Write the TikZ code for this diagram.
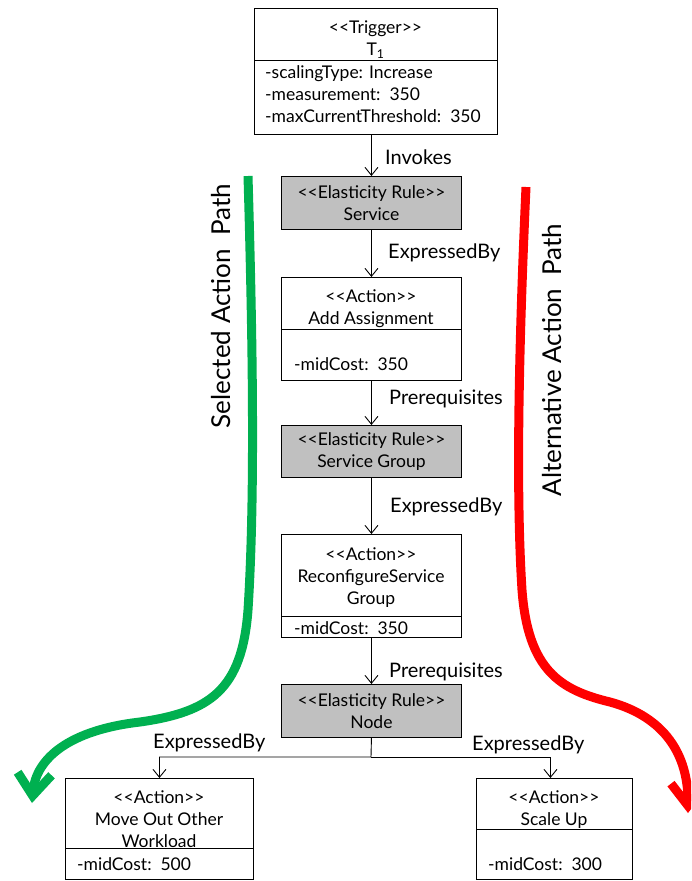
\documentclass[tikz,border=0pt]{standalone}
\usepackage{fontspec}
\setmainfont{Lato}[Ligatures=TeXOff]
\usetikzlibrary{arrows.meta,calc}

\definecolor{rulegray}{RGB}{192,192,192}
\definecolor{selgreen}{RGB}{0,176,80}
\definecolor{altred}{RGB}{255,0,0}

\tikzset{
  box/.style={draw, line width=0.9pt, inner sep=0pt, anchor=north west},
  rulebox/.style={box, fill=rulegray},
  boxtext/.style={font=\fontsize{17.5}{22}\selectfont, inner sep=0pt, align=center},
  attrtext/.style={font=\fontsize{17.5}{22}\selectfont, inner sep=0pt, align=left, anchor=north west},
  conn/.style={line width=0.9pt, -{Straight Barb[length=8pt,width=13pt]}},
  connlabel/.style={font=\fontsize{20}{24}\selectfont, inner sep=0pt, anchor=west},
  pathlabel/.style={font=\fontsize{26}{30}\selectfont, inner sep=0pt, rotate=90},
  pathline/.style={line width=9pt, -{Straight Barb[length=22pt,width=34pt]}}
}

\begin{document}
\begin{tikzpicture}[x=1pt, y=-1pt]
    \useasboundingbox (0,0) rectangle (691,881);
    \clip (0,0) rectangle (691,881);

    % Boxes, top to bottom (top left corner, size)
    \node[box, minimum width=243pt, minimum height=126pt] (trig) at (254,8) {};
    \node[rulebox, minimum width=180pt, minimum height=53pt] (rulesvc) at (281,176) {};
    \node[box, minimum width=180pt, minimum height=103pt] (addassign) at (281,277) {};
    \node[rulebox, minimum width=180pt, minimum height=52pt] (rulegroup) at (281,425) {};
    \node[box, minimum width=180pt, minimum height=103pt] (reconf) at (281,534) {};
    \node[rulebox, minimum width=180pt, minimum height=53pt] (rulenode) at (281,684) {};
    \node[box, minimum width=188pt, minimum height=101pt] (moveout) at (65,778) {};
    \node[box, minimum width=156pt, minimum height=101pt] (scaleup) at (476,778) {};

    % Compartment lines
    \draw[line width=0.9pt] (trig.west |- 0,60) -- (trig.east |- 0,60);
    \draw[line width=0.9pt] (addassign.west |- 0,329) -- (addassign.east |- 0,329);
    \draw[line width=0.9pt] (reconf.west |- 0,616) -- (reconf.east |- 0,616);
    \draw[line width=0.9pt] (moveout.west |- 0,848) -- (moveout.east |- 0,848);
    \draw[line width=0.9pt] (scaleup.west |- 0,829) -- (scaleup.east |- 0,829);

    % Box texts
    \node[boxtext] (trig-head) at (375.5,40) {<<Trigger>>\\T\textsubscript{1}};
    \node[attrtext] (trig-attr) at (265,65) {-scalingType: Increase\\-measurement:\ \ 350\\-maxCurrentThreshold:\ \ 350};
    \node[boxtext] (rulesvc-head) at (rulesvc.center) {<<Elasticity Rule>>\\Service};
    \node[boxtext] (addassign-head) at (371,309) {<<Action>>\\Add Assignment};
    \node[attrtext, anchor=west] (addassign-attr) at (294,364) {-midCost:\ \ 350};
    \node[boxtext] (rulegroup-head) at (rulegroup.center) {<<Elasticity Rule>>\\Service Group};
    \node[boxtext] (reconf-head) at (371,578) {<<Action>>\\ReconfigureService\\Group};
    \node[attrtext, anchor=west] (reconf-attr) at (294,628) {-midCost:\ \ 350};
    \node[boxtext] (rulenode-head) at (rulenode.center) {<<Elasticity Rule>>\\Node};
    \node[boxtext] (moveout-head) at (159,819) {<<Action>>\\Move Out Other\\Workload};
    \node[attrtext, anchor=west] (moveout-attr) at (77,864) {-midCost:\ \ 500};
    \node[boxtext] (scaleup-head) at (554,810) {<<Action>>\\Scale Up};
    \node[attrtext, anchor=west] (scaleup-attr) at (488,864) {-midCost:\ \ 300};

    % Connectors
    \draw[conn] (rulesvc.north |- trig.south) -- (rulesvc.north);
    \draw[conn] (rulesvc.south) -- (addassign.north);
    \draw[conn] (addassign.south) -- (rulegroup.north);
    \draw[conn] (rulegroup.south) -- (reconf.north);
    \draw[conn] (reconf.south) -- (rulenode.north);
    \coordinate (split) at (371,757);
    \draw[conn] (rulenode.south) -- (split) -| (moveout.north);
    \draw[conn] (split) -| ([xshift=-4pt]scaleup.north);

    % Connector labels
    \node[connlabel] (lbl-invokes) at (385,157) {Invokes};
    \node[connlabel] (lbl-expr1) at (388,253) {ExpressedBy};
    \node[connlabel] (lbl-prereq1) at (389,399) {Prerequisites};
    \node[connlabel] (lbl-expr2) at (390,507) {ExpressedBy};
    \node[connlabel] (lbl-prereq2) at (389,672) {Prerequisites};
    \node[connlabel] (lbl-expr3) at (153,743) {ExpressedBy};
    \node[connlabel] (lbl-expr4) at (472,745) {ExpressedBy};

    % Selected path (green) and alternative path (red)
    \draw[selgreen, pathline] (248,176) .. controls (253,350) and (255,500) .. (248,610)
        .. controls (242,690) and (210,712) .. (140,722)
        .. controls (70,730) and (36,758) .. (32,803);
    \draw[altred, pathline] (526,187) .. controls (520,320) and (515,480) .. (522,590)
        .. controls (528,670) and (560,690) .. (610,702)
        .. controls (665,717) and (688,755) .. (688,813);

    \node[pathlabel] (sel-lbl) at (221,306) {Selected Action\ \ Path};
    \node[pathlabel] (alt-lbl) at (552,360) {Alternative Action\ \ Path};

\end{tikzpicture}
\end{document}
